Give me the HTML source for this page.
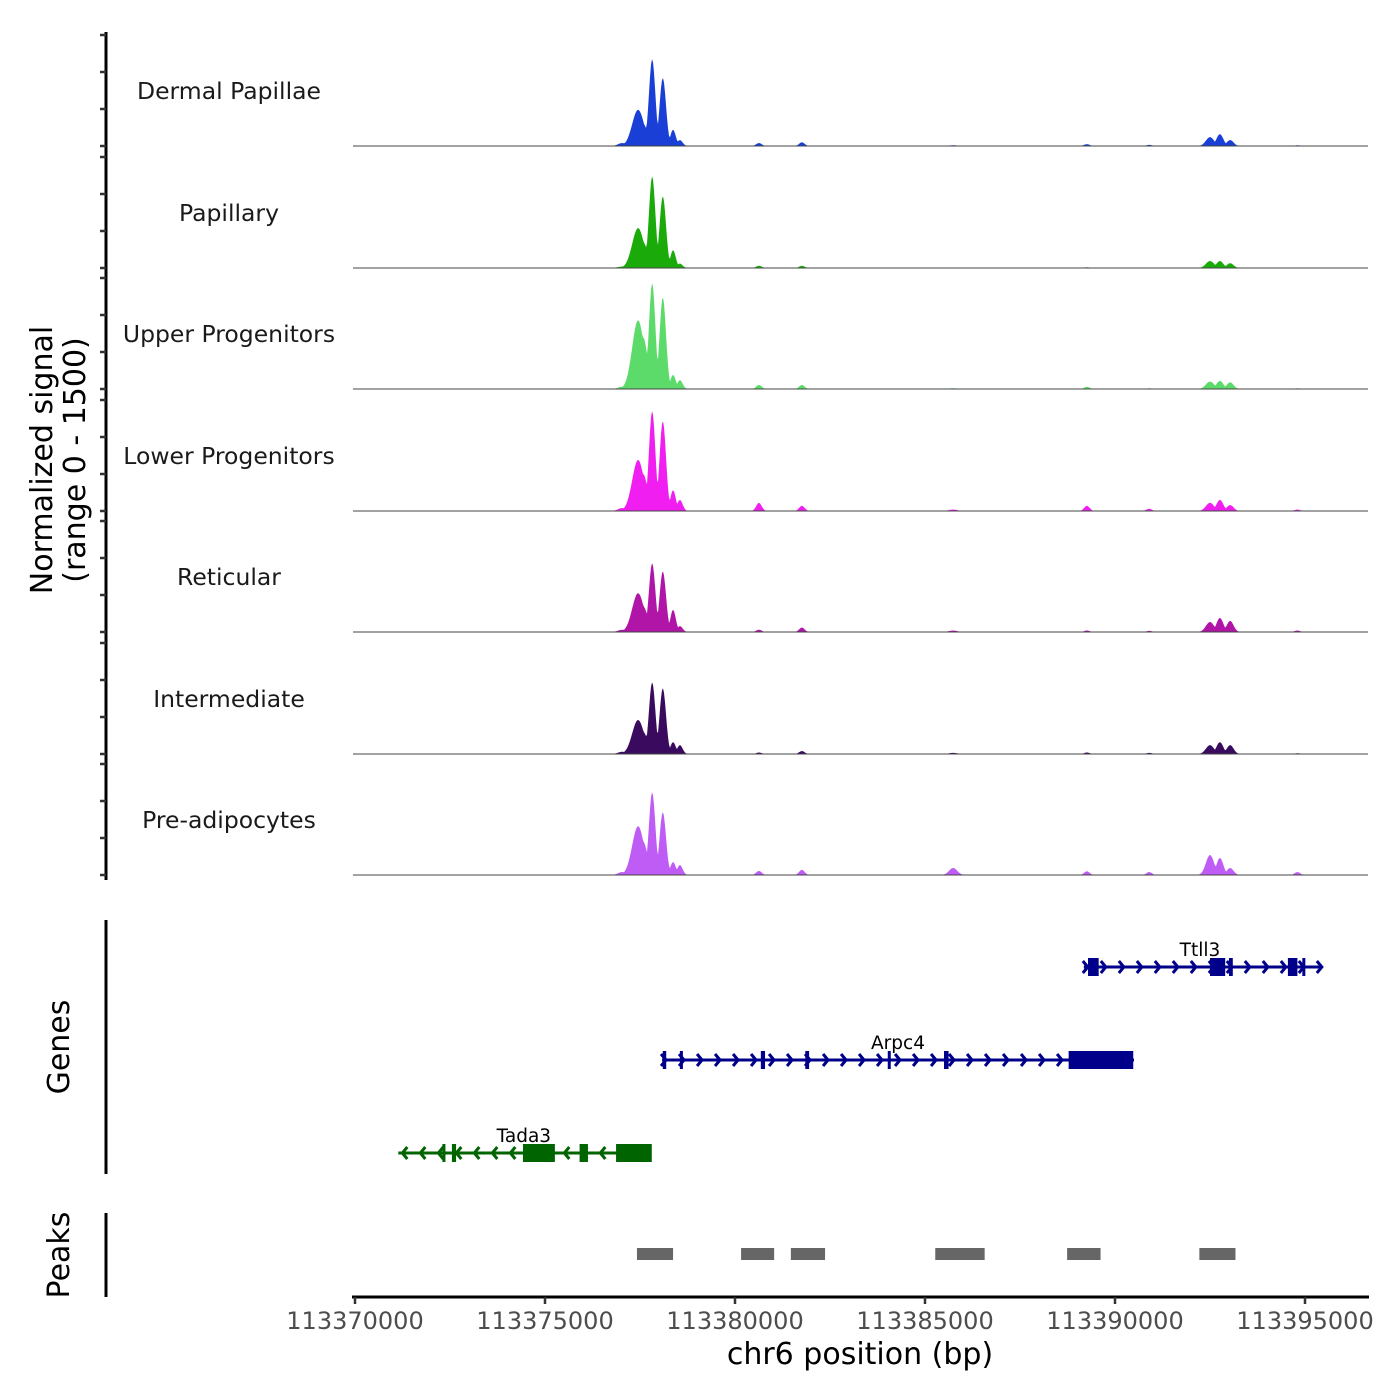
<!DOCTYPE html>
<html><head><meta charset="utf-8"><style>
body{margin:0;background:#fff}
svg{display:block;font-family:"DejaVu Sans","Liberation Sans",sans-serif}
</style></head><body>
<svg id="chart" width="1400" height="1400" viewBox="0 0 1400 1400" xmlns="http://www.w3.org/2000/svg">
<g id="tracks"></g>
<g id="genes"></g>
<g id="peaks"></g>
<g id="axes"></g>
</svg>
<script>
// ---- data ----
const startBp = 113370000;
const xTicks = [113370000,113375000,113380000,113385000,113390000,113395000];
const trackNames = ["Dermal Papillae","Papillary","Upper Progenitors","Lower Progenitors","Reticular","Intermediate","Pre-adipocytes"];
const trackColors = ["#1a3fd6","#1aab0a","#5ddb6a","#f01ef0","#b015a8","#3a0a5e","#be5cf5"];
// peak centers (bp offset from start) and widths (bp)
const peakPos = [7030,7450,7580,7820,8100,8370,8550,10630,11760,15740,19260,20900,22500,22760,23030,24800];
const peakWid = [180,260,200,140,140,120,120,120,120,180,120,120,180,150,150,120];
const dermal   = [40,490,300,1175,920,220,80,40,50,10,25,15,120,160,80,10];
const papillary= [20,540,350,1240,970,240,60,30,30,5,10,5,95,95,65,5];
const upperP   = [30,930,700,1430,1240,190,120,55,55,10,30,10,100,110,90,10];
const lowerP   = [40,690,500,1350,1215,280,150,110,70,20,70,30,110,150,80,20];
const reticular= [30,525,350,930,820,300,80,30,60,20,20,15,135,190,150,20];
const intermed = [30,460,300,970,890,160,120,20,40,15,20,15,120,160,120,10];
const preAdipo = [40,660,450,1120,850,175,135,55,70,95,50,40,270,230,95,40];
const trackValues = [dermal,papillary,upperP,lowerP,reticular,intermed,preAdipo];
// genes
const geneNames = ["Ttll3","Arpc4","Tada3"];
const geneSpans = [[19180,25450],[8080,20500],[1140,7800]];
const geneStrand = [1,1,-1];
const geneExons = [
  [[19290,19570],[22500,22900],[23000,23100],[24550,24800],[24930,25000]],
  [[8100,8190],[8550,8600],[10680,10790],[11850,11950],[14020,14080],[15500,15620],[18780,20480]],
  [[2300,2380],[2550,2660],[4420,5260],[5910,6130],[6870,7810]]
];
const geneColors = ["#00008b","#00008b","#006400"];
const peakRegions = [[7420,8370],[10160,11030],[11470,12370],[15270,16570],[18740,19620],[22220,23170]];

// ---- scales ----
const X0=355, PXPERBP=0.038;
const xs = bp => X0 + bp*PXPERBP;
const xsAbs = v => xs(v-startBp);
const baselines=[146,268,389,511,632,754,875];
const ySig = (b,v) => b - v*(111/1500);
const NS="http://www.w3.org/2000/svg";
function mk(tag,attrs,parent){const e=document.createElementNS(NS,tag);for(const k in attrs)e.setAttribute(k,attrs[k]);parent.appendChild(e);return e;}

const tracks=document.getElementById('tracks');
trackNames.forEach((name,t)=>{
  const b=baselines[t], vals=trackValues[t];
  const g=mk('g',{},tracks);
  
  
  let d='M353,'+b;
  for(let px=353;px<=1368;px+=1){
    const bp=(px-X0)/PXPERBP;
    let v=0;
    for(let i=0;i<peakPos.length;i++){
      const dx=Math.abs(bp-peakPos[i])/peakWid[i];
      if(dx<2) v=Math.max(v, vals[i]*Math.exp(-dx*dx*1.4));
    }
    d+=' L'+px+','+ySig(b,v).toFixed(1);
  }
  d+=' L1368,'+b+' Z';
  const p=mk('path',{d:d,fill:trackColors[t]},g);
  
  
  const l=mk('line',{x1:353,x2:1368,y1:b,y2:b,stroke:'#444','stroke-width':1},g);
  
  
  const tx=mk('text',{x:229,y:b-47,'text-anchor':'middle','font-size':23.5,fill:'#1a1a1a'},g);
  tx.textContent=name;
  
  
});

// genes
const genes=document.getElementById('genes');
const geneY=[967,1060,1153];
geneNames.forEach((name,gi)=>{
  const y=geneY[gi], c=geneColors[gi], s=geneStrand[gi];
  const g=mk('g',{},genes);
  
  
  const x1=xs(geneSpans[gi][0]), x2=xs(geneSpans[gi][1]);
  mk('line',{x1:x1,x2:x2,y1:y,y2:y,stroke:c,'stroke-width':3},g);
  for(let x=x1+4;x<=x2;x+=18){
    const dx=s>0?-5:5;
    mk('polyline',{points:(x+dx)+','+(y-6)+' '+x+','+y+' '+(x+dx)+','+(y+6),fill:'none',stroke:c,'stroke-width':3},g);
  }
  geneExons[gi].forEach(ex=>{
    const a=xs(ex[0]), w=Math.max(3,xs(ex[1])-a);
    const r=mk('rect',{x:a,y:y-9,width:w,height:18,fill:c},g);
    
    
  });
  const tx=mk('text',{x:(x1+x2)/2+(gi==0?-3:(gi==1?0:-1)),y:y-11,'text-anchor':'middle','font-size':18.5,fill:'#000'},g);
  tx.textContent=name;
  
  
});

// peaks
const peaksG=document.getElementById('peaks');
peakRegions.forEach(pr=>{
  const r=mk('rect',{x:xs(pr[0]),y:1248,width:xs(pr[1])-xs(pr[0]),height:12,fill:'#666'},peaksG);
  
  
});

// axes
const ax=document.getElementById('axes');
const yl=mk('line',{x1:106,x2:106,y1:32,y2:880,stroke:'#000','stroke-width':3},ax);


baselines.forEach(b=>{[0,37,74,111].forEach(o=>{mk('line',{x1:100,x2:106,y1:b-o,y2:b-o,stroke:'#333','stroke-width':2.5},ax);});});
const gl=mk('line',{x1:106,x2:106,y1:920,y2:1174,stroke:'#000','stroke-width':3},ax);


const pl=mk('line',{x1:106,x2:106,y1:1213,y2:1297,stroke:'#000','stroke-width':3},ax);


const xl=mk('line',{x1:352,x2:1369,y1:1297,y2:1297,stroke:'#000','stroke-width':3},ax);


xTicks.forEach(v=>{
  const x=xsAbs(v);
  mk('line',{x1:x,x2:x,y1:1297,y2:1304,stroke:'#333','stroke-width':2.5},ax);
  const t=mk('text',{x:x,y:1329,'text-anchor':'middle','font-size':24,fill:'#4d4d4d'},ax);
  t.textContent=v;
  
  
});
const xt=mk('text',{x:860,y:1364,'text-anchor':'middle','font-size':30,fill:'#000'},ax);
xt.textContent='chr6 position (bp)';


const yt=mk('text',{transform:'translate(52,460) rotate(-90)','text-anchor':'middle','font-size':30,fill:'#000'},ax);


const ts1=mk('tspan',{x:0,dy:0},yt); ts1.textContent='Normalized signal';
const ts2=mk('tspan',{x:0,dy:33},yt); ts2.textContent='(range 0 - 1500)';
const gt=mk('text',{transform:'translate(69,1047) rotate(-90)','text-anchor':'middle','font-size':30,fill:'#000'},ax);
gt.textContent='Genes';


const pt=mk('text',{transform:'translate(69,1255) rotate(-90)','text-anchor':'middle','font-size':30,fill:'#000'},ax);
pt.textContent='Peaks';


</script>
</body></html>
